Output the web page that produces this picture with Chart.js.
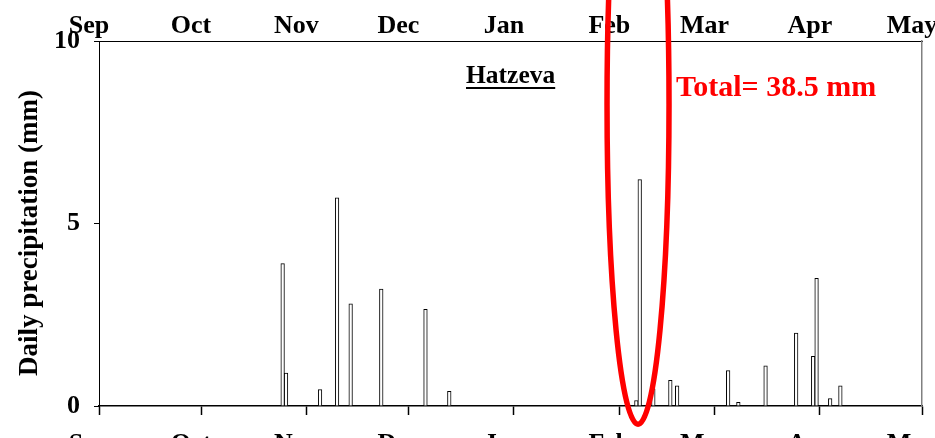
<!DOCTYPE html>
<html>
<head>
<meta charset="utf-8">
<script src="https://cdn.jsdelivr.net/npm/chart.js@4/dist/chart.umd.min.js"></script>
<style>
  html, body { margin: 0; padding: 0; background: #ffffff; }
  canvas { display: block; }
</style>
</head>
<body>
<canvas id="c" width="935" height="438"></canvas>
<script>
// Month axis: labels at the first day of each month, Sep through May
const monthLabels = ['Sep', 'Oct', 'Nov', 'Dec', 'Jan', 'Feb', 'Mar', 'Apr', 'May'];
const monthLengths = [30, 31, 30, 31, 31, 28, 31, 30];

// Rain days (days since 1 Sep) and daily precipitation (mm)
const rainDays = [54, 55, 65, 70, 74, 83, 96, 103, 158, 159, 163, 168, 170, 185, 188, 196, 205, 210, 211, 215, 218];
const rainMm   = [3.9, 0.9, 0.45, 5.7, 2.8, 3.2, 2.65, 0.4, 0.15, 6.2, 0.47, 0.7, 0.55, 0.97, 0.1, 1.1, 2.0, 1.36, 3.5, 0.2, 0.55];

const yTicks = [0, 5, 10];
const stationName = 'Hatzeva';
const totalLabel = 'Total= 38.5 mm';
const yTitle = 'Daily precipitation (mm)';

const monthStarts = [0];
monthLengths.forEach(n => monthStarts.push(monthStarts[monthStarts.length - 1] + n));
const seasonEnd = monthStarts[monthStarts.length - 1];

const SERIF = '"Liberation Serif", "Times New Roman", Times, serif';

const points = rainDays.map((d, i) => ({ x: d, y: rainMm[i] }));

function monthTicks(scale) {
  scale.ticks = monthStarts.map(v => ({ value: v }));
}

// Station name, season total, highlight ring and y-axis title
const overlay = {
  id: 'overlay',
  afterDraw(chart) {
    const { ctx, scales } = chart;
    const xs = scales.x, ys = scales.y;
    ctx.save();

    // y-axis title
    ctx.save();
    ctx.translate(30, 233);
    ctx.rotate(-Math.PI / 2);
    ctx.font = 'bold 27px ' + SERIF;
    ctx.fillStyle = '#000';
    ctx.textAlign = 'center';
    ctx.textBaseline = 'middle';
    ctx.fillText(yTitle, 0, 0);
    ctx.restore();

    // station name, underlined
    ctx.font = 'bold 25.5px ' + SERIF;
    ctx.fillStyle = '#000';
    ctx.textAlign = 'left';
    ctx.textBaseline = 'alphabetic';
    const nx = 466, ny = 83;
    ctx.fillText(stationName, nx, ny);
    const nw = ctx.measureText(stationName).width;
    ctx.fillRect(nx, ny + 4, nw, 2);

    // season total
    ctx.font = 'bold 30px ' + SERIF;
    ctx.fillStyle = '#ff0000';
    ctx.fillText(totalLabel, 676, 96);

    // ring around the February storm
    const cx = xs.getPixelForValue(158.5);
    const cy = ys.getPixelForValue(8.27);
    ctx.beginPath();
    ctx.ellipse(cx, cy, 31, 320, 0, 0, Math.PI * 2);
    ctx.strokeStyle = '#ff0000';
    ctx.lineWidth = 5.5;
    ctx.stroke();

    ctx.restore();
  }
};

new Chart(document.getElementById('c'), {
  type: 'bar',
  data: {
    datasets: [{
      data: points,
      xAxisID: 'x',
      yAxisID: 'y',
      backgroundColor: '#ffffff',
      borderColor: '#000000',
      borderWidth: 1,
      barThickness: 3.6,
      borderSkipped: 'start'
    }]
  },
  options: {
    responsive: false,
    devicePixelRatio: 1,
    animation: false,
    layout: { padding: { left: 0, right: 13, top: 0, bottom: 0 } },
    plugins: { legend: { display: false }, tooltip: { enabled: false } },
    scales: {
      x: {
        type: 'linear',
        position: 'bottom',
        min: 0,
        max: seasonEnd,
        offset: false,
        afterBuildTicks: monthTicks,
        afterFit(s) { s.height = 32; s.paddingLeft = 0; s.paddingRight = 0; },
        grid: { offset: false, drawOnChartArea: false, tickLength: 9, tickWidth: 1.5, tickColor: '#000' },
        border: { color: '#000', width: 1.5 },
        ticks: {
          autoSkip: false,
          maxRotation: 0,
          padding: 14,
          labelOffset: -10,
          color: '#000',
          font: { family: SERIF, size: 26, weight: 'bold' },
          callback: (v, i) => monthLabels[i]
        }
      },
      xTop: {
        type: 'linear',
        position: 'top',
        min: 0,
        max: seasonEnd,
        offset: false,
        afterBuildTicks: monthTicks,
        afterFit(s) { s.height = 41; s.paddingLeft = 0; s.paddingRight = 0; },
        grid: { offset: false, drawOnChartArea: false, drawTicks: false },
        border: { color: '#000', width: 1 },
        ticks: {
          autoSkip: false,
          maxRotation: 0,
          padding: -1,
          labelOffset: -10,
          color: '#000',
          font: { family: SERIF, size: 26, weight: 'bold' },
          callback: (v, i) => monthLabels[i]
        }
      },
      y: {
        type: 'linear',
        position: 'left',
        min: 0,
        max: 10,
        afterBuildTicks(s) { s.ticks = yTicks.map(v => ({ value: v })); },
        afterFit(s) { s.width = 99; s.paddingTop = 0; s.paddingBottom = 0; },
        grid: { drawOnChartArea: false, tickLength: 5, tickColor: '#000' },
        border: { color: '#000', width: 1 },
        ticks: {
          padding: 14,
          color: '#000',
          font: { family: SERIF, size: 26, weight: 'bold' }
        }
      },
      yRight: {
        type: 'linear',
        position: 'right',
        min: 0,
        max: 10,
        afterFit(s) { s.width = 0; s.paddingTop = 0; s.paddingBottom = 0; },
        grid: { drawOnChartArea: false, drawTicks: false },
        border: { color: '#808080', width: 1.5 },
        ticks: { display: false }
      }
    }
  },
  plugins: [overlay]
});
</script>
</body>
</html>
